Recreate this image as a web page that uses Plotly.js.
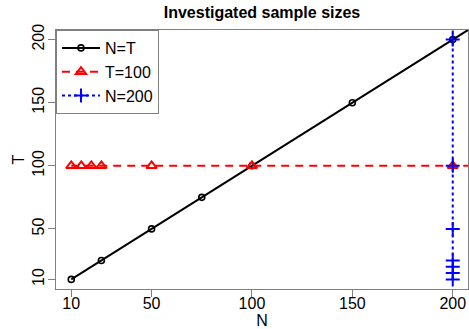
<!DOCTYPE html>
<html>
<head>
<meta charset="utf-8">
<script src="https://cdn.plot.ly/plotly-3.0.1.min.js"></script>
<style>html,body{margin:0;padding:0;background:#fff;}#chart{width:469px;height:329px;}</style>
</head>
<body>
<div id="chart"></div>
<script>
// N = T series (line continues beyond the last plotted point to the frame edge)
const nt_N = [10, 25, 50, 75, 100, 150, 200, 250];
const nt_T = [10, 25, 50, 75, 100, 150, 200, 250];
// T = 100 series
const t100_N = [10, 15, 20, 25, 50, 100, 200, 250];
const t100_T = [100, 100, 100, 100, 100, 100, 100, 100];
// N = 200 series
const n200_N = [200, 200, 200, 200, 200, 200, 200, 200];
const n200_T = [10, 15, 20, 25, 50, 100, 200, 250];

const seriesNames = ['N=T', 'T=100', 'N=200'];
const tickVals = [10, 50, 100, 150, 200];
const tickText = ['10', '50', '100', '150', '200'];

const font = 'Liberation Sans, Arial, sans-serif';

const traces = [
  {x: nt_N, y: nt_T, name: seriesNames[0], mode: 'lines+markers', type: 'scatter',
   line: {color: '#000000', width: 2},
   marker: {symbol: 'circle-open', size: 6, color: '#000000', line: {width: 1.6, color: '#000000'}}},
  {x: t100_N, y: t100_T, name: seriesNames[1], mode: 'lines+markers', type: 'scatter',
   line: {color: '#ff0000', width: 2, dash: '8px,6px'},
   marker: {symbol: 'triangle-up-open', size: 9, color: '#ff0000', line: {width: 2, color: '#ff0000'}}},
  {x: n200_N, y: n200_T, name: seriesNames[2], mode: 'lines+markers', type: 'scatter',
   line: {color: '#0000ff', width: 2, dash: 'dot'},
   marker: {symbol: 'cross-thin-open', size: 10, color: '#0000ff', line: {width: 2, color: '#0000ff'}}}
];

const layout = {
  width: 469, height: 329,
  margin: {l: 56, r: 1, t: 30, b: 40},
  paper_bgcolor: '#ffffff', plot_bgcolor: '#ffffff',
  font: {family: font, size: 16, color: '#000000'},
  showlegend: true,
  title: {text: '<b>Investigated sample sizes</b>', font: {family: font, size: 16, color: '#000000'},
          x: 0.5, xref: 'paper', xanchor: 'center', y: 0.963, yref: 'container', yanchor: 'middle'},
  xaxis: {range: [2.4, 207.6], tickvals: tickVals, ticktext: tickText,
          showgrid: false, zeroline: false, showline: true, linecolor: '#808080', linewidth: 1, mirror: true,
          ticks: 'outside', ticklen: 7, tickcolor: '#808080', tickwidth: 1, ticklabelstandoff: -7,
          tickfont: {family: font, size: 16, color: '#000000'},
          title: {text: 'N', font: {family: font, size: 16, color: '#000000'}, standoff: 3}},
  yaxis: {range: [2.4, 207.6], tickvals: tickVals, ticktext: tickText, tickangle: -90,
          showgrid: false, zeroline: false, showline: true, linecolor: '#808080', linewidth: 1, mirror: true,
          ticks: 'outside', ticklen: 7, tickcolor: '#808080', tickwidth: 1, ticklabelstandoff: -2,
          tickfont: {family: font, size: 16, color: '#000000'},
          title: {text: 'T', font: {family: font, size: 16, color: '#000000'}, standoff: 0}},
  legend: {x: 0, y: 1, xref: 'paper', yref: 'paper', xanchor: 'left', yanchor: 'top',
           bgcolor: '#ffffff', bordercolor: '#808080', borderwidth: 1,
           font: {family: font, size: 16, color: '#000000'}, tracegroupgap: 0, itemwidth: 38}
};

Plotly.newPlot('chart', traces, layout, {staticPlot: true, displayModeBar: false});
</script>
</body>
</html>
